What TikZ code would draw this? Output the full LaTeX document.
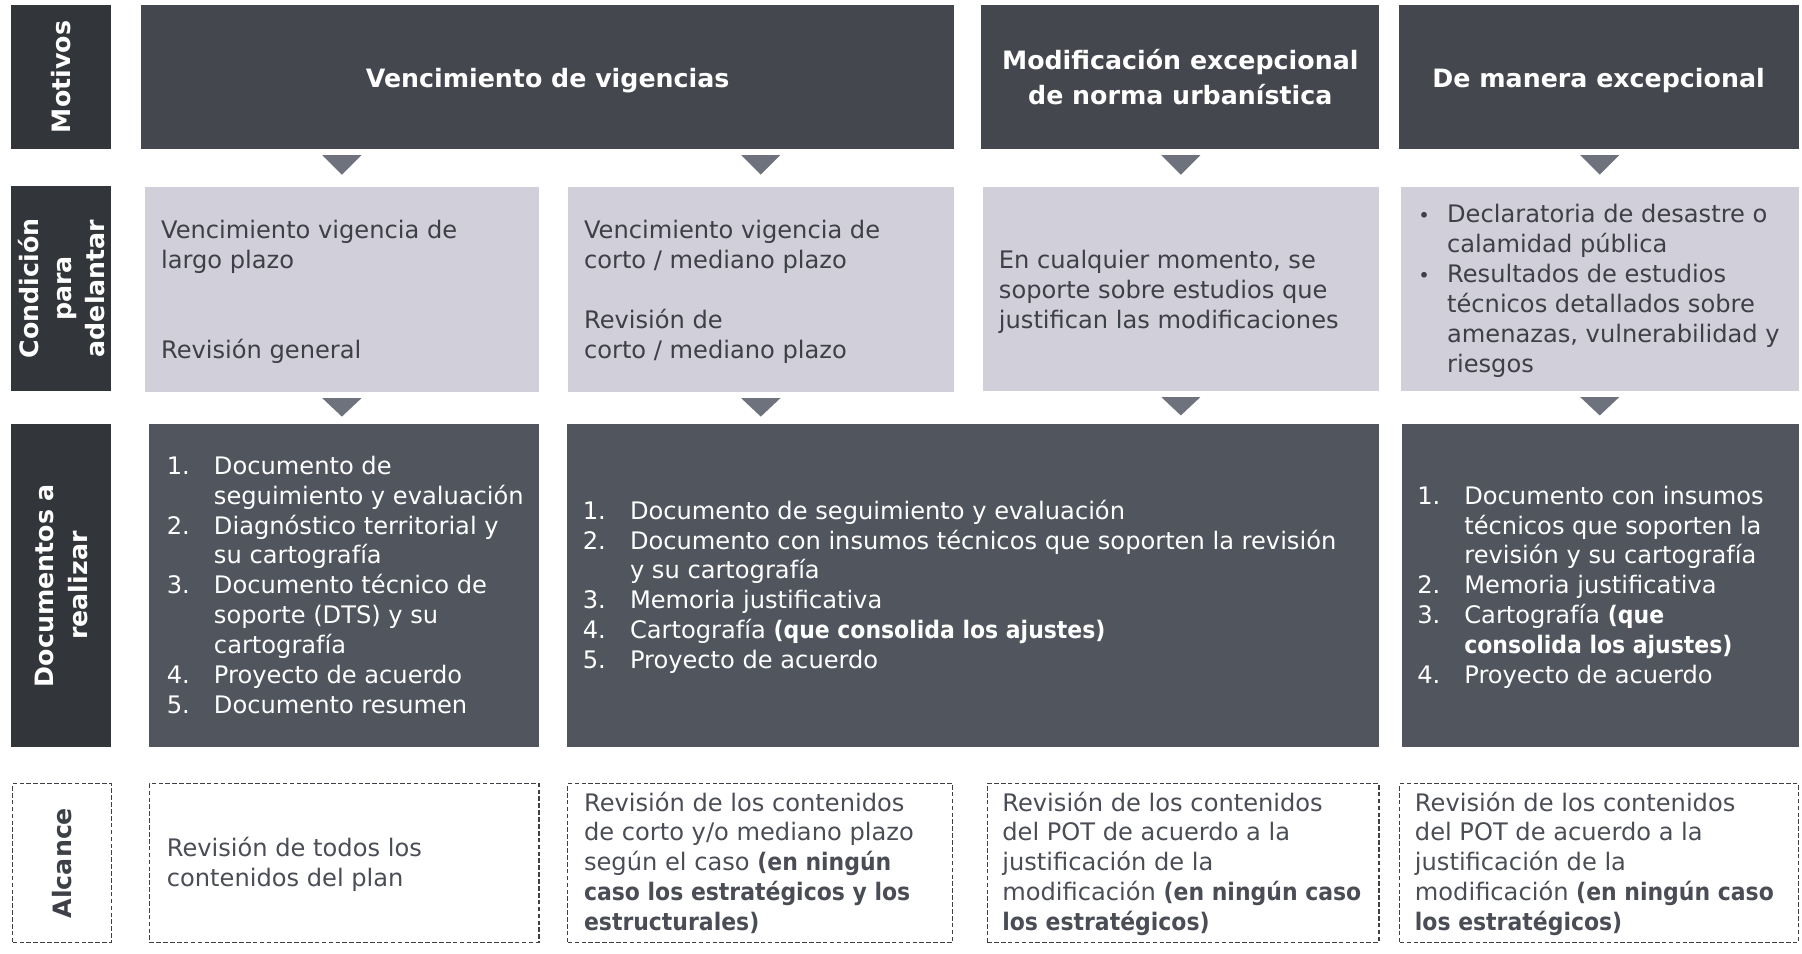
\documentclass[tikz,border=0pt]{standalone}
\usepackage{fontspec}
\setmainfont{DejaVu Sans}
\newfontfamily\narrowfam{DejaVu Sans}[FakeStretch=0.91]
\usetikzlibrary{calc}
\definecolor{hdr}{HTML}{45474F}
\definecolor{lbl}{HTML}{323539}
\definecolor{cnd}{HTML}{D1CFDA}
\definecolor{docc}{HTML}{51555E}
\definecolor{tric}{HTML}{6E727C}
\definecolor{txt}{HTML}{3D4047}
\definecolor{alc}{HTML}{4A4D55}
\newcommand{\numit}[1]{\makebox[41pt][l]{#1}}
\newcommand{\contit}{\hspace*{41pt}}
\newcommand{\bld}[1]{{\narrowfam\bfseries #1}}
\newcommand{\bul}{\llap{\makebox[25pt][l]{{\fontsize{17}{26}\selectfont •}}}}
\begin{document}
\begin{tikzpicture}[x=1pt,y=-1pt,
  box/.style={anchor=north west, inner sep=0pt, outer sep=0pt},
  hdrbox/.style={box, fill=hdr, text=white, align=center, font=\bfseries\fontsize{22}{31}\selectfont},
  onehdr/.style={hdrbox, text height=18pt, text depth=0pt},
  lblbox/.style={box, fill=lbl},
  cndbox/.style={box, fill=cnd},
  docbox/.style={box, fill=docc},
  alcbox/.style={box, draw=txt, line width=1.2pt, dash pattern=on 4pt off 2pt},
  lbltext/.style={rotate=90, align=center, inner sep=0pt, text=white, font=\bfseries\fontsize{22}{29}\selectfont},
  body/.style={anchor=north west, yshift=18.2pt, inner sep=0pt, align=left, font=\fontsize{21}{26}\selectfont, text=txt},
  doctext/.style={body, text=white},
  alctext/.style={body, text=alc},
  arrowtri/.style={fill=tric},
]
\useasboundingbox (0,0) rectangle (1568,830);

% Row 1: Motivos
\node[lblbox, minimum width=87pt, minimum height=126pt] (l1) at (10,4) {};
\node[lbltext] (t1) at (l1.center) {Motivos};
\node[onehdr, minimum width=707pt, minimum height=126pt] (h1) at (123,4) {Vencimiento de vigencias};
\node[hdrbox, minimum width=346pt, minimum height=126pt] (h2) at (854,4) {Modificación excepcional\\de norma urbanística};
\node[onehdr, minimum width=348pt, minimum height=126pt] (h3) at (1217,4) {De manera excepcional};

% Row 2: Condición
\node[lblbox, minimum width=87pt, minimum height=178pt] (l2) at (10,162) {};
\node[lbltext] (t2) at (l2.center) {Condición\\para\\adelantar};
\node[cndbox, minimum width=343pt, minimum height=178pt] (c1) at (126,163) {};
\node[cndbox, minimum width=336pt, minimum height=178pt] (c2) at (494,163) {};
\node[cndbox, minimum width=345pt, minimum height=177pt] (c3) at (855,163) {};
\node[cndbox, minimum width=346pt, minimum height=177pt] (c4) at (1219,163) {};
\node[body] (ct1) at (140,207.5) {\strut Vencimiento vigencia de\\largo plazo\\[52pt]Revisión general};
\node[body] (ct2) at (508,207.5) {\strut Vencimiento vigencia de\\corto / mediano plazo\\[26pt]Revisión de\\corto / mediano plazo};
\node[body] (ct3) at (869,233.5) {\strut En cualquier momento, se\\soporte sobre estudios que\\justifican las modificaciones};
\node[body] (ct4) at (1259,193.5) {\strut\bul Declaratoria de desastre o\\calamidad pública\\\bul Resultados de estudios\\técnicos detallados sobre\\amenazas, vulnerabilidad y\\riesgos};

% Row 3: Documentos
\node[lblbox, minimum width=87pt, minimum height=281pt] (l3) at (10,369) {};
\node[lbltext] (t3) at (l3.center) {Documentos a\\realizar};
\node[docbox, minimum width=339pt, minimum height=281pt] (d1) at (130,369) {};
\node[docbox, minimum width=707pt, minimum height=281pt] (d2) at (493,369) {};
\node[docbox, minimum width=345pt, minimum height=281pt] (d3) at (1220,369) {};
\node[doctext] (dt1) at (145,412.5) {\strut\numit{1.}Documento de\\\contit seguimiento y evaluación\\\numit{2.}Diagnóstico territorial y\\\contit su cartografía\\\numit{3.}Documento técnico de\\\contit soporte (DTS) y su\\\contit cartografía\\\numit{4.}Proyecto de acuerdo\\\numit{5.}Documento resumen};
\node[doctext] (dt2) at (507,451.5) {\strut\numit{1.}Documento de seguimiento y evaluación\\\numit{2.}Documento con insumos técnicos que soporten la revisión\\\contit y su cartografía\\\numit{3.}Memoria justificativa\\\numit{4.}Cartografía \bld{(que consolida los ajustes)}\\\numit{5.}Proyecto de acuerdo};
\node[doctext] (dt3) at (1233,438.5) {\strut\numit{1.}Documento con insumos\\\contit técnicos que soporten la\\\contit revisión y su cartografía\\\numit{2.}Memoria justificativa\\\numit{3.}Cartografía \bld{(que}\\\contit\bld{consolida los ajustes)}\\\numit{4.}Proyecto de acuerdo};

% Row 4: Alcance
\node[alcbox, minimum width=86pt, minimum height=138pt] (l4) at (11,682) {};
\node[lbltext, text=txt] (t4) at (l4.center) {Alcance};
\node[alcbox, minimum width=339pt, minimum height=138pt] (a1) at (130,682) {};
\node[alcbox, minimum width=335pt, minimum height=138pt] (a2) at (494,682) {};
\node[alcbox, minimum width=341pt, minimum height=138pt] (a3) at (859,682) {};
\node[alcbox, minimum width=347pt, minimum height=138pt] (a4) at (1218,682) {};
\node[alctext] (at1) at (145,745.5) {\strut Revisión de todos los\\contenidos del plan};
\node[alctext] (at2) at (508,705.5) {\strut Revisión de los contenidos\\de corto y/o mediano plazo\\según el caso \bld{(en ningún}\\\bld{caso los estratégicos y los}\\\bld{estructurales)}};
\node[alctext] (at3) at (872,705.5) {\strut Revisión de los contenidos\\del POT de acuerdo a la\\justificación de la\\modificación \bld{(en ningún caso}\\\bld{los estratégicos)}};
\node[alctext] (at4) at (1231,705.5) {\strut Revisión de los contenidos\\del POT de acuerdo a la\\justificación de la\\modificación \bld{(en ningún caso}\\\bld{los estratégicos)}};

% Triangles between rows
\foreach \n in {c1,c2,c3,c4}{
  \fill[arrowtri] ($(\n.north)+(-17,-28)$) -- ($(\n.north)+(17,-28)$) -- ($(\n.north)+(0,-11)$) -- cycle;
  \fill[arrowtri] ($(\n.south)+(-17,5.5)$) -- ($(\n.south)+(17,5.5)$) -- ($(\n.south)+(0,21.5)$) -- cycle;
}
\end{tikzpicture}
\end{document}
